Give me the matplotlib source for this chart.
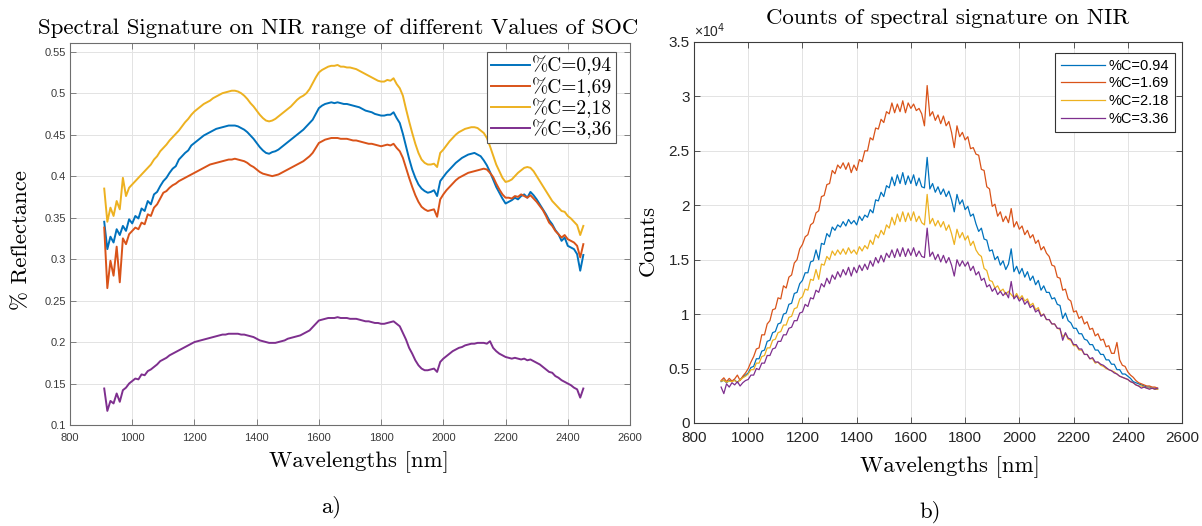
import numpy as np
import matplotlib
matplotlib.use("Agg")
import matplotlib.pyplot as plt
from matplotlib.ticker import FuncFormatter, MultipleLocator

plt.rcParams['axes.unicode_minus'] = False

# ---------------- data ----------------
wl_left = np.arange(910, 2451, 10)
refl_094 = [
    0.345, 0.312, 0.327, 0.320, 0.336, 0.329, 0.340, 0.334, 0.348, 0.343,
    0.352, 0.349, 0.361, 0.358, 0.370, 0.366, 0.378, 0.381, 0.388, 0.394,
    0.398, 0.404, 0.409, 0.412, 0.420, 0.424, 0.428, 0.431, 0.437, 0.440,
    0.443, 0.446, 0.449, 0.451, 0.453, 0.455, 0.457, 0.458, 0.459, 0.460,
    0.461, 0.461, 0.461, 0.460, 0.458, 0.456, 0.453, 0.449, 0.445, 0.440,
    0.435, 0.431, 0.428, 0.427, 0.429, 0.430, 0.432, 0.435, 0.438, 0.441,
    0.444, 0.447, 0.450, 0.453, 0.456, 0.460, 0.464, 0.468, 0.475, 0.482,
    0.485, 0.487, 0.488, 0.489, 0.488, 0.489, 0.488, 0.487, 0.487, 0.486,
    0.485, 0.484, 0.483, 0.481, 0.479, 0.478, 0.477, 0.475, 0.474, 0.473,
    0.473, 0.474, 0.474, 0.477, 0.470, 0.464, 0.451, 0.436, 0.421, 0.408,
    0.398, 0.390, 0.385, 0.382, 0.380, 0.381, 0.383, 0.376, 0.394, 0.399,
    0.404, 0.408, 0.412, 0.416, 0.419, 0.422, 0.424, 0.426, 0.427, 0.428,
    0.426, 0.424, 0.419, 0.413, 0.405, 0.396, 0.387, 0.380, 0.373, 0.367,
    0.369, 0.371, 0.374, 0.372, 0.376, 0.378, 0.374, 0.381, 0.377, 0.372,
    0.366, 0.360, 0.354, 0.347, 0.342, 0.335, 0.330, 0.322, 0.326, 0.316,
    0.314, 0.312, 0.306, 0.286, 0.305]
refl_169 = [
    0.338, 0.265, 0.298, 0.280, 0.315, 0.272, 0.325, 0.318, 0.330, 0.334,
    0.338, 0.336, 0.344, 0.342, 0.354, 0.352, 0.362, 0.366, 0.373, 0.380,
    0.382, 0.386, 0.389, 0.391, 0.394, 0.396, 0.398, 0.400, 0.402, 0.404,
    0.406, 0.408, 0.410, 0.412, 0.414, 0.415, 0.416, 0.417, 0.418, 0.419,
    0.420, 0.420, 0.421, 0.420, 0.419, 0.418, 0.416, 0.413, 0.411, 0.408,
    0.405, 0.403, 0.402, 0.401, 0.400, 0.401, 0.402, 0.404, 0.406, 0.408,
    0.410, 0.412, 0.414, 0.416, 0.418, 0.421, 0.424, 0.428, 0.434, 0.440,
    0.442, 0.444, 0.445, 0.446, 0.446, 0.446, 0.445, 0.445, 0.445, 0.444,
    0.443, 0.443, 0.442, 0.441, 0.440, 0.439, 0.439, 0.438, 0.437, 0.436,
    0.437, 0.438, 0.437, 0.439, 0.434, 0.430, 0.422, 0.410, 0.398, 0.387,
    0.377, 0.369, 0.363, 0.360, 0.358, 0.359, 0.360, 0.351, 0.372, 0.378,
    0.383, 0.387, 0.391, 0.395, 0.398, 0.400, 0.402, 0.404, 0.405, 0.406,
    0.407, 0.408, 0.409, 0.408, 0.404, 0.399, 0.391, 0.384, 0.378, 0.374,
    0.374, 0.373, 0.376, 0.375, 0.378, 0.376, 0.374, 0.377, 0.373, 0.369,
    0.364, 0.359, 0.352, 0.344, 0.340, 0.334, 0.330, 0.326, 0.329, 0.324,
    0.322, 0.320, 0.316, 0.302, 0.318]
refl_218 = [
    0.385, 0.345, 0.362, 0.352, 0.370, 0.360, 0.398, 0.376, 0.386, 0.390,
    0.394, 0.398, 0.402, 0.406, 0.410, 0.414, 0.420, 0.424, 0.430, 0.434,
    0.438, 0.443, 0.447, 0.451, 0.455, 0.460, 0.465, 0.469, 0.474, 0.478,
    0.481, 0.484, 0.487, 0.489, 0.491, 0.494, 0.496, 0.498, 0.500, 0.501,
    0.502, 0.503, 0.503, 0.502, 0.500, 0.497, 0.493, 0.488, 0.484, 0.479,
    0.474, 0.470, 0.467, 0.466, 0.467, 0.469, 0.472, 0.475, 0.478, 0.481,
    0.484, 0.488, 0.492, 0.495, 0.497, 0.500, 0.505, 0.512, 0.519, 0.525,
    0.528, 0.530, 0.532, 0.533, 0.533, 0.534, 0.532, 0.532, 0.531, 0.531,
    0.530, 0.529, 0.527, 0.525, 0.523, 0.521, 0.519, 0.517, 0.515, 0.514,
    0.514, 0.516, 0.515, 0.518, 0.511, 0.506, 0.497, 0.481, 0.466, 0.452,
    0.439, 0.428, 0.420, 0.416, 0.414, 0.414, 0.415, 0.411, 0.428, 0.432,
    0.437, 0.442, 0.446, 0.450, 0.453, 0.455, 0.457, 0.458, 0.459, 0.459,
    0.458, 0.455, 0.452, 0.446, 0.436, 0.425, 0.414, 0.406, 0.398, 0.393,
    0.394, 0.396, 0.400, 0.404, 0.407, 0.410, 0.411, 0.410, 0.406, 0.400,
    0.394, 0.388, 0.382, 0.376, 0.370, 0.366, 0.362, 0.358, 0.357, 0.352,
    0.349, 0.345, 0.341, 0.329, 0.340]
refl_336 = [
    0.144, 0.117, 0.129, 0.126, 0.138, 0.128, 0.142, 0.145, 0.150, 0.153,
    0.156, 0.155, 0.161, 0.160, 0.165, 0.167, 0.170, 0.173, 0.177, 0.179,
    0.181, 0.184, 0.186, 0.188, 0.190, 0.192, 0.194, 0.196, 0.198, 0.200,
    0.201, 0.202, 0.203, 0.204, 0.205, 0.206, 0.207, 0.208, 0.209, 0.209,
    0.210, 0.210, 0.210, 0.210, 0.209, 0.209, 0.208, 0.207, 0.206, 0.204,
    0.202, 0.201, 0.200, 0.199, 0.199, 0.199, 0.200, 0.201, 0.202, 0.204,
    0.205, 0.206, 0.207, 0.208, 0.210, 0.212, 0.214, 0.218, 0.222, 0.226,
    0.227, 0.228, 0.229, 0.229, 0.229, 0.230, 0.229, 0.229, 0.229, 0.228,
    0.228, 0.228, 0.227, 0.226, 0.225, 0.225, 0.224, 0.223, 0.223, 0.222,
    0.222, 0.223, 0.224, 0.225, 0.222, 0.219, 0.211, 0.203, 0.193, 0.186,
    0.178, 0.172, 0.168, 0.166, 0.166, 0.167, 0.168, 0.164, 0.176, 0.180,
    0.183, 0.186, 0.189, 0.191, 0.193, 0.194, 0.196, 0.197, 0.198, 0.198,
    0.199, 0.199, 0.199, 0.198, 0.201, 0.193, 0.189, 0.186, 0.184, 0.182,
    0.181, 0.180, 0.181, 0.180, 0.179, 0.180, 0.178, 0.179, 0.177, 0.175,
    0.173, 0.170, 0.167, 0.164, 0.163, 0.159, 0.157, 0.154, 0.152, 0.150,
    0.148, 0.145, 0.143, 0.133, 0.144]

wl_right = np.arange(900, 2511, 10)
counts_094 = [
    3800, 3950, 3700, 3900, 3850, 3950, 3700, 4000, 4200, 4400,
    4600, 5100, 5200, 5900, 5900, 6600, 6700, 7500, 7600, 8300,
    8400, 9100, 9200, 10000, 10100, 10900, 11000, 11900, 12000, 12800,
    13100, 13800, 13800, 14800, 14900, 15900, 15000, 16500, 16400, 17400,
    17100, 18000, 17700, 18200, 18000, 18500, 18100, 18700, 18300, 18600,
    18200, 19000, 18600, 19100, 18900, 19600, 19300, 20500, 20400, 21200,
    20800, 21800, 21600, 22600, 21800, 22800, 22000, 23000, 21900, 22700,
    22000, 22800, 21800, 22500, 21700, 21600, 24400, 21500, 22000, 21200,
    21700, 21000, 21500, 20800, 21300, 20500, 19400, 21000, 20100, 20500,
    19600, 19900, 19000, 19200, 18300, 17600, 17900, 16900, 16800, 15800,
    15900, 15000, 15300, 14500, 14900, 14100, 14600, 16000, 13900, 14400,
    13700, 14200, 13400, 13900, 13100, 13500, 12700, 13100, 12200, 12600,
    12000, 12000, 11400, 11500, 10900, 10800, 9600, 10100, 9400, 9200,
    8700, 8700, 8200, 8200, 7700, 7600, 7200, 7200, 6700, 6700,
    6300, 6300, 5800, 5800, 5400, 5400, 4900, 4900, 4500, 4500,
    4300, 4100, 3800, 3700, 3600, 3500, 3400, 3300, 3300, 3200,
    3200, 3100]
counts_169 = [
    3900, 4150, 3800, 4100, 3850, 4050, 4400, 3900, 4300, 4600,
    5000, 5600, 6100, 6800, 6900, 8100, 8100, 9100, 9400, 10400,
    10500, 11500, 11400, 12600, 12400, 13400, 13600, 14700, 15000, 16000,
    16400, 17100, 17300, 18200, 18400, 19300, 19500, 20800, 20900, 21900,
    22000, 23200, 22900, 23700, 23400, 23900, 23300, 23900, 23000, 23700,
    23200, 24200, 24000, 25000, 25000, 26200, 26000, 27100, 27000, 27900,
    27600, 28600, 28400, 29400, 28500, 29300, 28600, 29600, 28500, 29400,
    28900, 29300, 28700, 28900, 28400, 27300, 31000, 28200, 28600, 27800,
    28300, 27500, 28200, 27300, 27700, 26700, 25300, 27300, 26300, 26700,
    26000, 26300, 25200, 25300, 24700, 24600, 23300, 23200, 21700, 21500,
    19900, 20100, 19000, 19400, 18500, 19000, 18400, 19700, 18000, 18500,
    17800, 18100, 17300, 17700, 17000, 17300, 16500, 16800, 15900, 16200,
    15600, 15300, 14500, 14400, 13400, 13300, 12200, 12300, 11400, 11200,
    10200, 10300, 9600, 9800, 9100, 9300, 8600, 8700, 8000, 8200,
    7600, 7700, 7000, 7100, 6400, 6400, 7400, 5800, 5300, 5200,
    4700, 4400, 4200, 3900, 3700, 3600, 3500, 3400, 3400, 3300,
    3300, 3200]
counts_218 = [
    3850, 3900, 3750, 3850, 3800, 3900, 3750, 3950, 4150, 4300,
    4500, 4900, 4900, 5500, 5500, 6100, 6200, 6900, 6900, 7600,
    7700, 8300, 8400, 9000, 9000, 9700, 9800, 10500, 10600, 11400,
    11600, 12300, 12200, 13200, 13100, 14100, 13200, 14600, 14500, 15300,
    15000, 15800, 15400, 15900, 15500, 16000, 15500, 16100, 15600, 15900,
    15500, 16200, 15800, 16300, 16000, 16800, 16400, 17300, 17000, 17700,
    17300, 18200, 17900, 18900, 18200, 19200, 18500, 19400, 18500, 19300,
    18600, 19400, 18500, 19000, 18400, 18200, 21000, 18300, 18800, 18100,
    18600, 18000, 18500, 17700, 18200, 17400, 16400, 17800, 17000, 17500,
    16800, 17200, 16300, 16700, 15900, 15500, 15300, 14200, 14000, 13100,
    13000, 12400, 12600, 12100, 12300, 11800, 12100, 11800, 11500, 11900,
    11400, 11700, 11200, 11400, 10800, 11000, 10400, 10600, 9900, 10000,
    9500, 9500, 9100, 9100, 8700, 8600, 7900, 8200, 7700, 7600,
    7100, 7100, 6700, 6700, 6300, 6300, 5900, 5900, 5500, 5600,
    5300, 5200, 5000, 4900, 4800, 4700, 4500, 4300, 4200, 4100,
    4000, 3800, 3700, 3500, 3400, 3400, 3300, 3200, 3200, 3200,
    3100, 3100]
counts_336 = [
    3300, 2700, 3600, 3300, 3700, 3500, 3800, 3400, 3700, 3900,
    4000, 4400, 4400, 5000, 4900, 5500, 5500, 6200, 6200, 6800,
    6900, 7500, 7500, 8100, 8100, 8700, 8800, 9400, 9400, 10100,
    10200, 10900, 10700, 11500, 11400, 12200, 12000, 12800, 12500, 13300,
    12800, 13600, 13200, 13900, 13400, 14100, 13600, 14300, 13500, 14300,
    13800, 14500, 14000, 14600, 14100, 14900, 14400, 15200, 14700, 15400,
    14800, 15600, 15200, 15900, 15200, 16000, 15300, 16100, 15300, 16000,
    15400, 16100, 15300, 15800, 15300, 15200, 17900, 15300, 15700, 15000,
    15500, 14800, 15400, 14700, 15200, 14500, 13500, 15000, 14400, 14900,
    14400, 14800, 14000, 14400, 13600, 13900, 13100, 13300, 12500, 12700,
    12100, 12400, 11800, 12100, 11700, 12000, 11500, 13000, 11400, 11700,
    11200, 11500, 10900, 11200, 10600, 10800, 10200, 10400, 9800, 10000,
    9500, 9500, 9100, 9100, 8700, 8700, 7600, 8300, 7800, 7700,
    7200, 7200, 6800, 6800, 6300, 6300, 5900, 6000, 5600, 5600,
    5400, 5300, 5100, 4900, 4800, 4600, 4500, 4300, 4200, 4100,
    4000, 3800, 3700, 3500, 3400, 3200, 3300, 3200, 3100, 3200,
    3100, 3200]

labels_left = ['%C=0,94', '%C=1,69', '%C=2,18', '%C=3,36']
labels_right = ['%C=0.94', '%C=1.69', '%C=2.18', '%C=3.36']
colors = ['#0072BD', '#D95319', '#EDB120', '#7E2F8E']

# ---------------- figure ----------------
W, H = 1202, 526
fig = plt.figure(figsize=(W / 100, H / 100), dpi=100)
SERIF = 'cmr10'
SANS = 'Liberation Sans'


def style_axes(ax, spine_color, tick_size, tick_color):
    ax.grid(True, color='#e3e3e3', linewidth=0.7)
    ax.set_axisbelow(True)
    for s in ax.spines.values():
        s.set_color(spine_color)
        s.set_linewidth(0.8)
    ax.tick_params(direction='in', top=True, right=True, length=4,
                   width=0.6, color=spine_color, labelsize=tick_size,
                   labelcolor=tick_color, pad=3)
    ax.tick_params(axis='x', pad=6)
    for lab in ax.get_xticklabels() + ax.get_yticklabels():
        lab.set_fontfamily(SANS)


# Left panel
ax1 = fig.add_axes([70 / W, (H - 425) / H, 560 / W, 382 / H])
for ys, c, lab in zip([refl_094, refl_169, refl_218, refl_336], colors, labels_left):
    ax1.plot(wl_left, ys, color=c, lw=1.4, label=lab)
ax1.set_xlim(800, 2600)
ax1.set_ylim(0.1, 0.5605)
ax1.xaxis.set_major_locator(MultipleLocator(200))
ax1.yaxis.set_major_locator(MultipleLocator(0.05))
ax1.yaxis.set_major_formatter(FuncFormatter(lambda v, p: f'{v:g}'))
style_axes(ax1, '#6e6e6e', 8, '#3a3a3a')
leg1 = ax1.legend(loc='upper left', bbox_to_anchor=((487 - 70) / 560, (425 - 52) / 382),
                  prop={'family': SERIF, 'size': 14}, handlelength=2.0,
                  handletextpad=0.1, labelspacing=0.08, borderpad=0.2,
                  borderaxespad=0, fancybox=False, framealpha=1,
                  edgecolor='#555555')
leg1.get_frame().set_linewidth(0.8)

# Right panel
ax2 = fig.add_axes([694 / W, (H - 423) / H, 488 / W, 381 / H])
for ys, c, lab in zip([counts_094, counts_169, counts_218, counts_336], colors, labels_right):
    ax2.plot(wl_right, ys, color=c, lw=0.9, label=lab)
ax2.set_xlim(800, 2600)
ax2.set_ylim(0, 35000)
ax2.xaxis.set_major_locator(MultipleLocator(200))
ax2.yaxis.set_major_locator(MultipleLocator(5000))
ax2.yaxis.set_major_formatter(FuncFormatter(lambda v, p: f'{v / 1e4:g}'))
style_axes(ax2, '#3c3c3c', 11, '#262626')
ax2.text(0.0, 1.004, '×10$^{4}$', transform=ax2.transAxes, ha='left', va='bottom',
         fontsize=10, family=SANS, color='#262626')
leg2 = ax2.legend(loc='upper left', bbox_to_anchor=((1055 - 694) / 488, (423 - 53) / 381),
                  prop={'family': SANS, 'size': 10.5}, handlelength=3.0,
                  handletextpad=0.3, labelspacing=0.25, borderpad=0.4,
                  borderaxespad=0, fancybox=False, framealpha=1,
                  edgecolor='#333333')
leg2.get_frame().set_linewidth(0.8)

# Titles, labels, captions (pixel-positioned)
def ftext(x, y, s, size, **kw):
    fig.text(x / W, 1 - y / H, s, fontsize=size, family=SERIF,
             ha='center', va='center', **kw)

ftext(338, 28, 'Spectral Signature on NIR range of different Values of SOC', 16.5)
ftext(948, 18, 'Counts of spectral signature on NIR', 16.5)
ftext(359, 462, 'Wavelengths [nm]', 16.4)
ftext(950, 467, 'Wavelengths [nm]', 16.4)
ftext(21, 240, '% Reflectance', 16.4, rotation=90)
ftext(648, 241, 'Counts', 16.4, rotation=90)
ftext(331, 507, 'a)', 16.4)
ftext(930, 512, 'b)', 16.4)

fig.savefig('out.png', dpi=100)
